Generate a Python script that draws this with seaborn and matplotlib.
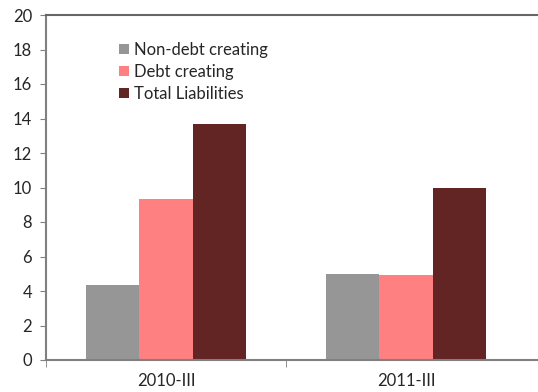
import pandas as pd
import seaborn as sns
import matplotlib.pyplot as plt

# données
periods = ["2010-III", "2011-III"]
series = ["Non-debt creating", "Debt creating", "Total Liabilities"]
non_debt = [4.35, 4.97]
debt = [9.35, 4.90]
total = [13.7, 9.95]
colors = ["#969696", "#FF8080", "#632523"]

df = pd.DataFrame({
    "period": periods * 3,
    "serie": [s for s in series for _ in periods],
    "value": non_debt + debt + total,
})

sns.set_style("white")
plt.rcParams["font.family"] = ["Lato", "DejaVu Sans"]

fig = plt.figure(figsize=(5.38, 3.92), dpi=100)
ax = fig.add_axes([46 / 538, 32 / 392, 491 / 538, 345 / 392])

sns.barplot(data=df, x="period", y="value", hue="serie", palette=colors,
            width=0.67, gap=0, saturation=1, linewidth=0, ax=ax)

ax.set_xlim(-0.5, 1.5 + 11 / 240)
ax.set_ylim(0, 20)
ax.set_yticks(range(0, 21, 2))
ax.set_xlabel("")
ax.set_ylabel("")
ax.tick_params(axis="y", labelsize=12, length=4, color="#808080", left=True, pad=6)
ax.tick_params(axis="x", which="major", length=0, labelsize=12, pad=9)
ax.set_xticks([-0.5, 0.5], minor=True)
ax.tick_params(axis="x", which="minor", length=5, color="#808080", bottom=True)

for side in ["left", "bottom"]:
    ax.spines[side].set_color("#808080")
    ax.spines[side].set_linewidth(1.5)
ax.spines["top"].set_color("#666666")
ax.spines["top"].set_linewidth(1.5)
ax.spines["right"].set_visible(False)

leg = ax.legend(loc="upper left", bbox_to_anchor=(0.118, 0.965), frameon=False,
                fontsize=12, handlelength=0.6, handleheight=0.6,
                handletextpad=0.3, labelspacing=0.35)

fig.savefig("out.png", dpi=100)
